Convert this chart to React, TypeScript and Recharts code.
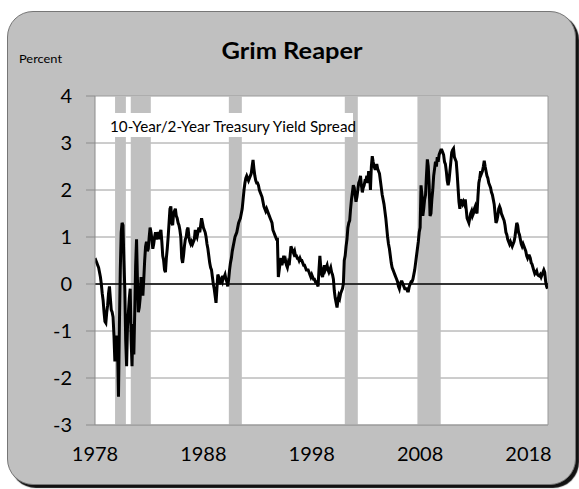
import React from 'react';
import { LineChart, Line, XAxis, YAxis, CartesianGrid, ReferenceArea, ReferenceLine } from 'recharts';

// Monthly 10-Year minus 2-Year Treasury yield spread (percent), Jan 1978 onward
const spread1978to1987 = [
  0.55, 0.5, 0.45, 0.4, 0.35, 0.25, 0.15, 0.0, -0.2, -0.35, -0.6, -0.8,
  -0.83, -0.6, -0.45, -0.2, -0.05, -0.3, -0.55, -0.6, -0.7, -1.1, -1.65, -1.2,
  -1.1, -1.4, -2.4, -0.9, 0.3, 1.1, 1.3, 1.25, 0.5, -0.1, -1.2, -1.75,
  -0.9, -0.6, -0.3, -0.1, -1.2, -1.75, -0.85, -1.5, -0.6, 0.4, 0.95, 0.1,
  -0.6, -0.5, -0.3, 0.15, 0.05, -0.25, 0.1, 0.5, 0.8, 0.9, 0.7, 0.75,
  1.0, 1.2, 1.1, 0.95, 0.75, 0.85, 1.0, 1.1, 0.95, 1.05, 1.1, 0.95,
  1.1, 1.15, 0.9, 0.6, 0.5, 0.3, 0.25, 0.55, 0.75, 1.0, 1.3, 1.6,
  1.65, 1.3, 1.25, 1.5, 1.55, 1.6, 1.45, 1.4, 1.3, 1.25, 1.15, 1.0,
  0.55, 0.45, 0.6, 0.8, 0.95, 1.0, 1.15, 1.2, 1.0, 0.9, 0.85, 0.9,
  0.85, 0.9, 0.95, 1.15, 1.05, 1.0, 1.1, 1.2, 1.1, 1.25, 1.4, 1.3,
];
const spread1988to1997 = [
  1.2, 1.15, 1.1, 1.0, 0.85, 0.75, 0.6, 0.45, 0.35, 0.3, 0.15, 0.0,
  -0.1, -0.25, -0.4, -0.1, 0.2, 0.15, 0.0, 0.05, 0.1, 0.05, 0.15, 0.15,
  0.2, 0.1, 0.05, -0.05, 0.1, 0.3, 0.45, 0.55, 0.7, 0.8, 0.9, 1.0,
  1.05, 1.1, 1.2, 1.3, 1.35, 1.4, 1.5, 1.6, 1.8, 2.0, 2.15, 2.25,
  2.3, 2.25, 2.2, 2.25, 2.3, 2.35, 2.5, 2.64, 2.45, 2.3, 2.2, 2.15,
  2.15, 2.1, 2.0, 1.95, 1.9, 1.85, 1.75, 1.65, 1.6, 1.55, 1.6, 1.55,
  1.5, 1.45, 1.4, 1.35, 1.3, 1.15, 1.1, 1.05, 1.0, 0.95, 0.95, 0.15,
  0.3, 0.45, 0.55, 0.4, 0.5, 0.6, 0.45, 0.5, 0.4, 0.35, 0.45, 0.4,
  0.6, 0.8, 0.75, 0.7, 0.65, 0.7, 0.6, 0.6, 0.55, 0.55, 0.5, 0.55,
  0.5, 0.5, 0.45, 0.4, 0.4, 0.35, 0.3, 0.3, 0.3, 0.25, 0.2, 0.15,
];
const spread1998to2007 = [
  0.2, 0.15, 0.1, 0.1, 0.05, 0.05, 0.0, -0.05, 0.3, 0.6, 0.35, 0.2,
  0.15, 0.3, 0.4, 0.3, 0.35, 0.4, 0.3, 0.25, 0.3, 0.35, 0.25, 0.2,
  0.1, -0.15, -0.3, -0.4, -0.5, -0.35, -0.25, -0.3, -0.2, -0.15, -0.1, 0.0,
  0.5, 0.6, 0.8, 0.95, 1.2, 1.3, 1.35, 1.6, 1.8, 1.95, 2.1, 2.05,
  1.9, 1.75, 1.85, 2.0, 2.15, 2.2, 2.3, 2.1, 1.95, 2.05, 2.1, 2.2,
  2.2, 2.3, 2.15, 2.4, 2.35, 2.0, 2.5, 2.72, 2.6, 2.5, 2.45, 2.45,
  2.55, 2.45, 2.4, 2.35, 2.2, 2.05, 1.9, 1.8, 1.7, 1.55, 1.4, 1.2,
  1.0, 0.85, 0.75, 0.6, 0.45, 0.35, 0.3, 0.25, 0.2, 0.15, 0.1, 0.05,
  -0.05, -0.1, 0.0, 0.05, 0.05, 0.0, -0.05, -0.1, -0.1, -0.1, -0.15, -0.15,
  -0.05, 0.0, 0.05, 0.05, 0.1, 0.2, 0.3, 0.45, 0.6, 0.75, 0.9, 1.1,
];
const spread2008to2019 = [
  1.2, 2.1, 1.9, 1.45, 1.6, 1.8, 1.9, 2.3, 2.65, 2.5, 2.1, 1.45,
  1.5, 1.8, 2.0, 2.3, 2.45, 2.6, 2.5, 2.7, 2.6, 2.75, 2.8, 2.85,
  2.85, 2.8, 2.75, 2.6, 2.55, 2.4, 2.2, 2.1, 2.2, 2.4, 2.6, 2.8,
  2.85, 2.88, 2.7, 2.65, 2.6, 2.35, 2.05, 1.75, 1.6, 1.8, 1.75, 1.7,
  1.75, 1.7, 1.8, 1.6, 1.4, 1.35, 1.3, 1.4, 1.5, 1.55, 1.45, 1.5,
  1.6, 1.65, 1.55, 1.5, 1.85, 2.15, 2.25, 2.4, 2.35, 2.4, 2.5, 2.62,
  2.5, 2.4, 2.3, 2.25, 2.15, 2.1, 2.05, 1.95, 1.9, 1.8, 1.7, 1.5,
  1.3, 1.35, 1.45, 1.6, 1.65, 1.6, 1.5, 1.45, 1.4, 1.35, 1.25, 1.1,
  1.05, 0.95, 0.9, 0.85, 0.9, 0.85, 0.8, 0.85, 0.9, 1.0, 1.15, 1.3,
  1.25, 1.1, 1.05, 0.95, 0.85, 0.8, 0.85, 0.8, 0.75, 0.7, 0.6, 0.55,
  0.6, 0.6, 0.55, 0.45, 0.42, 0.35, 0.28, 0.22, 0.25, 0.28, 0.2, 0.18,
  0.17, 0.2, 0.15, 0.2, 0.25, 0.3, 0.25, 0.05, -0.05, -0.1,
];

const startYear = 1978;
const recessionStarts = [1979.85, 1981.3, 1990.35, 2001.05, 2007.75];
const recessionEnds = [1980.85, 1983.15, 1991.55, 2002.25, 2009.9];
const xTicks = [1978, 1988, 1998, 2008, 2018];
const yTicks = [-3, -2, -1, 0, 1, 2, 3, 4];
const xDomain = [1978, 2019.8];
const yDomain = [-3, 4];

const allValues = [...spread1978to1987, ...spread1988to1997, ...spread1998to2007, ...spread2008to2019];
const data = allValues.map((v, i) => ({ t: startYear + i / 12, v }));

const FONT = 'Lato, "Open Sans", sans-serif';

export default function App() {
  return (
    <div style={{ position: 'absolute', left: 0, top: 0, width: 579, height: 489 }}>
      <div
        style={{
          position: 'absolute',
          left: 7,
          top: 11,
          width: 569,
          height: 474,
          boxSizing: 'border-box',
          border: '1px solid #767676',
          borderRadius: 26,
          background: '#c0c0c0',
          boxShadow: '3px 3px 1px #111',
        }}
      />
      <div style={{ position: 'absolute', left: 0, top: 0 }}>
        <LineChart width={579} height={489} data={data} margin={{ top: 96, right: 31, bottom: 24, left: 0 }}>
          <CartesianGrid vertical={false} stroke="#9a9a9a" fill="#ffffff" />
          {recessionStarts.map((s, i) => (
            <ReferenceArea
              key={i}
              x1={s}
              x2={recessionEnds[i]}
              y1={-3}
              y2={4}
              fill="#c0c0c0"
              fillOpacity={1}
              stroke="none"
            />
          ))}
          <XAxis
            dataKey="t"
            type="number"
            domain={xDomain}
            ticks={xTicks}
            allowDataOverflow
            height={40}
            tickLine={false}
            tickSize={0}
            tickMargin={22}
            axisLine={{ stroke: '#9a9a9a' }}
            tick={{ fill: '#000', fontSize: 20, fontFamily: FONT }}
          />
          <YAxis
            type="number"
            domain={yDomain}
            ticks={yTicks}
            width={95}
            tickSize={9}
            tickMargin={14}
            interval={0}
            axisLine={{ stroke: '#8c8c8c' }}
            tickLine={{ stroke: '#8c8c8c' }}
            tick={{ fill: '#000', fontSize: 20, fontFamily: FONT }}
          />
          <ReferenceLine x={2019.8} stroke="#9a9a9a" />
          <ReferenceLine y={0} stroke="#000" strokeWidth={1.5} />
          <Line
            type="linear"
            dataKey="v"
            stroke="#000"
            strokeWidth={3}
            dot={false}
            isAnimationActive={false}
          />
        </LineChart>
      </div>
      <svg
        width={579}
        height={489}
        style={{ position: 'absolute', left: 0, top: 0, pointerEvents: 'none' }}
      >
        <text x={292} y={59} textAnchor="middle" fontFamily={FONT} fontWeight="bold" fontSize={23} fill="#000" textLength={141} lengthAdjust="spacingAndGlyphs">
          Grim Reaper
        </text>
        <text x={19} y={63} fontFamily={FONT} fontSize={12} fill="#000" textLength={43} lengthAdjust="spacingAndGlyphs">
          Percent
        </text>
        <rect x={100} y={113} width={253} height={24} fill="#ffffff" />
        <text x={110} y={132} fontFamily={FONT} fontSize={15} fill="#000" textLength={246} lengthAdjust="spacingAndGlyphs">
          10-Year/2-Year Treasury Yield Spread
        </text>
      </svg>
    </div>
  );
}
